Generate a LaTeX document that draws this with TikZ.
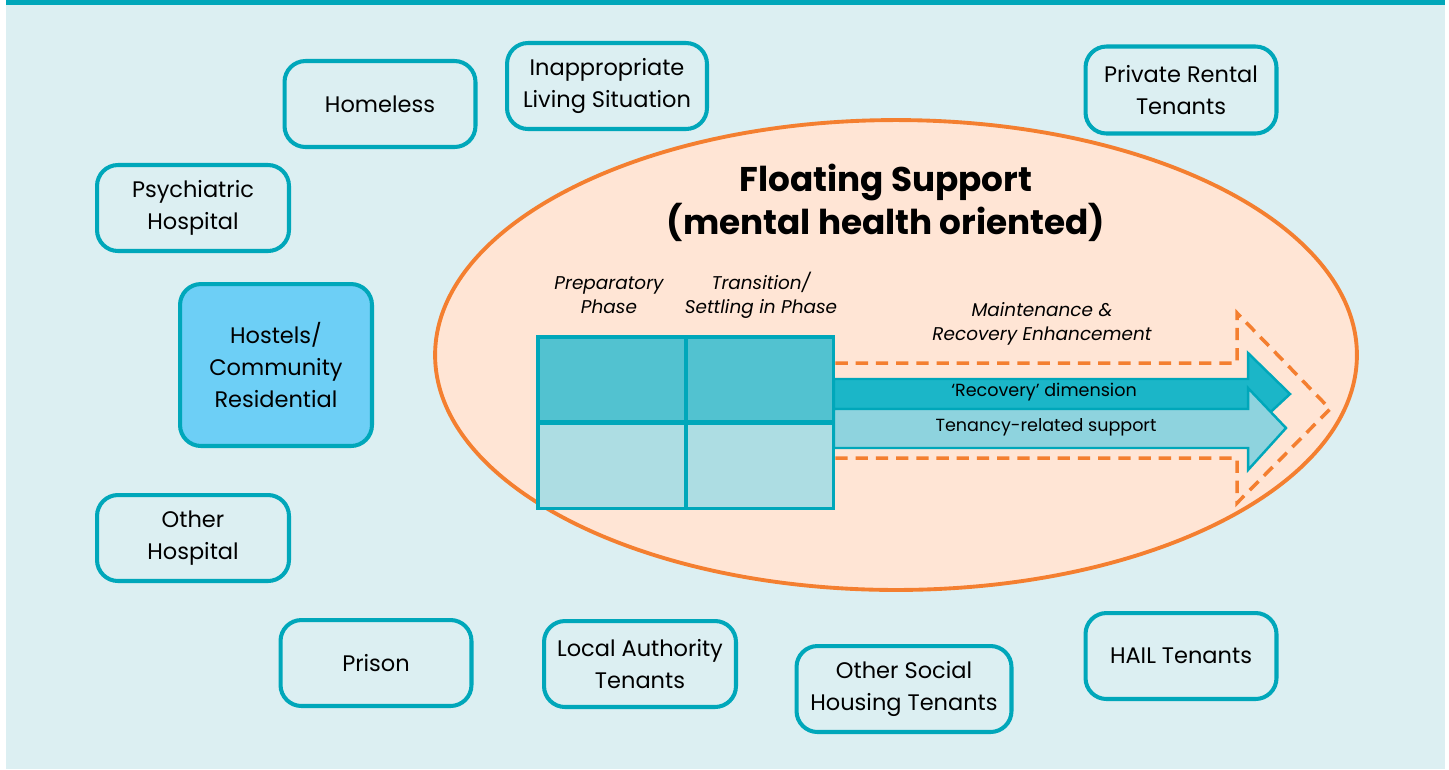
\documentclass[tikz,border=0pt]{standalone}
\usepackage{fontspec}
\setmainfont{Poppins}
\usetikzlibrary{shapes.geometric}
\definecolor{teal}{HTML}{00A7BA}
\definecolor{pagebg}{HTML}{DCEFF2}
\definecolor{peach}{HTML}{FFE5D5}
\definecolor{orng}{HTML}{F47F30}
\definecolor{hostel}{HTML}{6DCFF6}
\definecolor{celltop}{HTML}{52C2D0}
\definecolor{cellbot}{HTML}{ADDDE3}
\definecolor{recov}{HTML}{1BB6C8}
\definecolor{tenan}{HTML}{8ED3DE}
\tikzset{
  place/.style={draw=teal, line width=2.3pt, rounded corners=0.42cm, align=center,
    font=\fontsize{12.8}{18}\selectfont, inner sep=0pt},
  cell/.style={draw=teal, line width=2pt, minimum width=2.96cm, minimum height=1.71cm, inner sep=0pt},
  phase/.style={align=center, font=\itshape\fontsize{10.5}{13.5}\selectfont},
  band/.style={draw=teal, line width=1.4pt, line join=miter},
  bandtext/.style={font=\fontsize{10}{12}\selectfont},
  outline/.style={draw=orng, line width=2pt, dash pattern=on 7pt off 4.5pt}
}
\begin{document}
\begin{tikzpicture}[x=0.02cm, y=-0.02cm]
\useasboundingbox (0,0) rectangle (1449,769);
% page background and top rule
\fill[pagebg] (6,0) rectangle (1445,769);
\fill[teal] (6,0) rectangle (1445,5);

% floating support ellipse
\node[ellipse, draw=orng, fill=peach, line width=2.2pt, minimum width=18.44cm, minimum height=9.4cm, inner sep=0pt] (float) at (896,355) {};
\node[font=\bfseries\fontsize{19.5}{24.5}\selectfont, align=center] (title) at (886,203) {Floating Support\\(mental health oriented)};

% phase grid
\node[cell, fill=celltop, anchor=north west] (c11) at (536,335) {};
\node[cell, fill=celltop, anchor=north west] (c12) at (684,335) {};
\node[cell, fill=cellbot, anchor=north west] (c21) at (536,421) {};
\node[cell, fill=cellbot, anchor=north west] (c22) at (684,421) {};
\node[phase] (prep) at (609,295) {Preparatory\\Phase};
\node[phase] (trans) at (761,295) {Transition/\\Settling in Phase};
\node[phase] (maint) at (1042,324) {Maintenance \&\\Recovery Enhancement};

% dashed outline arrow
\draw[outline] (c12.east |- 0,363) -- (1237,363) -- (1237,313) -- (1330,409) -- (1237,503) -- (1237,458) -- (c12.east |- 0,458);

% recovery and tenancy arrows
\draw[band, fill=recov] (834,379) -- (1248,379) -- (1248,353) -- (1290,394) -- (1248,433) -- (1248,409) -- (834,409) -- cycle;
\draw[band, fill=tenan] (834,409) -- (1248,409) -- (1248,388) -- (1286,428) -- (1248,470) -- (1248,448) -- (834,448) -- cycle;
\node[bandtext] (rec) at (1044,392) {`Recovery' dimension};
\node[bandtext] (ten) at (1046,427) {Tenancy-related support};

% places people come from
\node[place, minimum width=3.82cm, minimum height=1.72cm] (homeless) at (380,104) {Homeless};
\node[place, minimum width=4.0cm, minimum height=1.72cm] (inapp) at (607,86) {Inappropriate\\Living Situation};
\node[place, minimum width=3.82cm, minimum height=1.74cm] (private) at (1181,90) {Private Rental\\Tenants};
\node[place, minimum width=3.84cm, minimum height=1.72cm] (psych) at (193,208) {Psychiatric\\Hospital};
\node[place, fill=hostel, minimum width=3.84cm, minimum height=3.24cm] (hostels) at (276,365) {Hostels/\\Community\\Residential};
\node[place, minimum width=3.84cm, minimum height=1.72cm] (otherh) at (193,538) {Other\\Hospital};
\node[place, minimum width=3.82cm, minimum height=1.72cm] (prison) at (376,663) {Prison};
\node[place, minimum width=3.84cm, minimum height=1.72cm] (local) at (640,664) {Local Authority\\Tenants};
\node[place, minimum width=4.3cm, minimum height=1.72cm] (social) at (904,689) {Other Social\\Housing Tenants};
\node[place, minimum width=3.82cm, minimum height=1.72cm] (hail) at (1181,656) {HAIL Tenants};
\end{tikzpicture}
\end{document}
